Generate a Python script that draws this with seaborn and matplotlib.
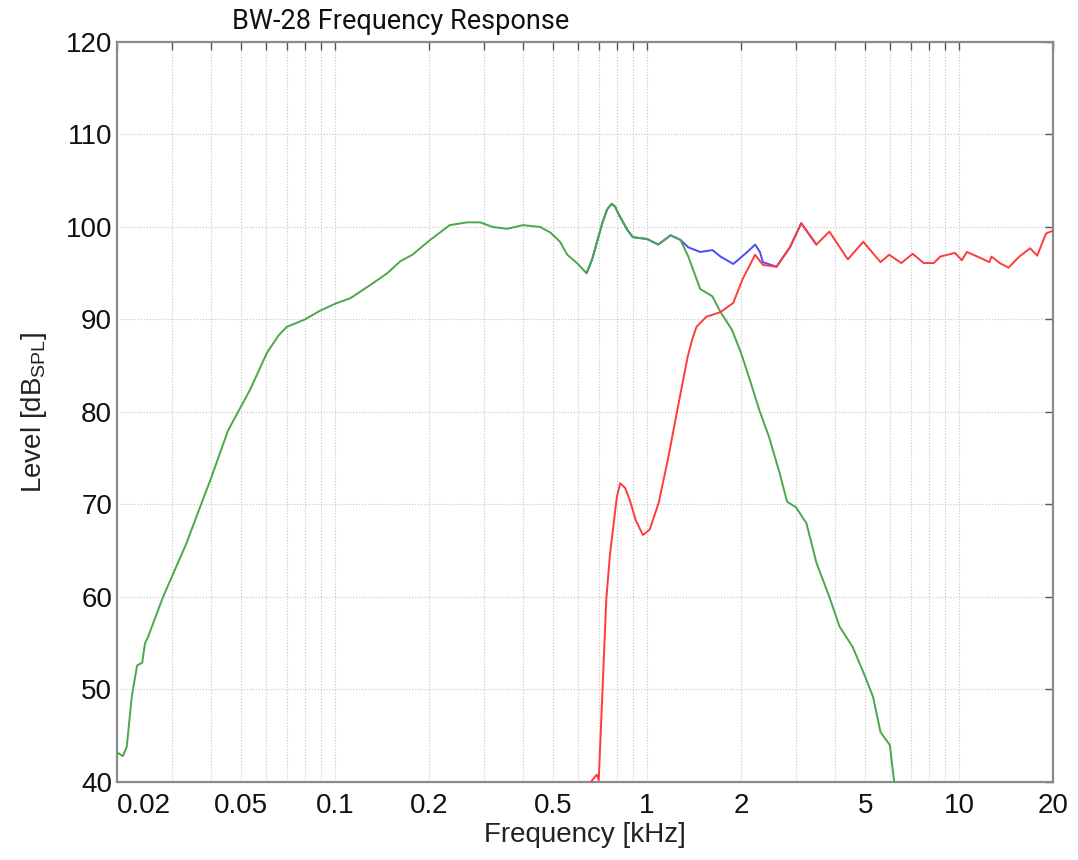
import numpy as np
import pandas as pd
import matplotlib
matplotlib.use("Agg")
import matplotlib.pyplot as plt
import seaborn as sns
from matplotlib.ticker import FixedLocator, LogLocator, NullFormatter

# woofer (green), frequencies in kHz, level in dB SPL
green_f = [0.02, 0.0209, 0.0215, 0.0223, 0.0232, 0.0241, 0.0246, 0.0251, 0.0281, 0.030,
           0.0334, 0.0369, 0.0398, 0.0454, 0.0534, 0.0605, 0.066, 0.070, 0.080, 0.089, 0.100,
           0.112, 0.132, 0.147, 0.162, 0.177, 0.200, 0.233, 0.265, 0.292, 0.320,
           0.356, 0.400, 0.454, 0.490, 0.526, 0.555, 0.596, 0.640, 0.667, 0.690,
           0.720, 0.745, 0.770, 0.790, 0.810, 0.864, 0.900, 1.000, 1.086, 1.190, 1.280, 1.356,
           1.480, 1.620, 1.720, 1.870, 2.000, 2.120, 2.290, 2.460, 2.660, 2.810,
           3.000, 3.240, 3.490, 3.840, 4.140, 4.560, 5.000, 5.300, 5.600, 6.000, 6.200]
green_db = [43.2, 42.8, 43.8, 49.2, 52.6, 52.9, 55.0, 55.6, 60.0, 62.2,
            65.8, 69.7, 72.6, 78.0, 82.4, 86.4, 88.3, 89.2, 90.0, 90.9, 91.7,
            92.3, 93.9, 95.0, 96.3, 97.0, 98.5, 100.2, 100.5, 100.5, 100.0,
            99.8, 100.2, 100.0, 99.4, 98.4, 97.0, 96.1, 95.0, 96.5, 98.3,
            100.5, 101.9, 102.5, 102.2, 101.4, 99.7, 98.9, 98.7, 98.1, 99.1, 98.6, 96.8,
            93.3, 92.5, 90.8, 88.9, 86.4, 83.8, 80.2, 77.3, 73.4, 70.3,
            69.7, 68.0, 63.7, 60.0, 56.8, 54.6, 51.4, 49.2, 45.4, 44.0, 39.9]

# tweeter (red)
red_f = [0.660, 0.690, 0.700, 0.720, 0.740, 0.760, 0.775, 0.800, 0.820, 0.850, 0.880,
         0.920, 0.970, 1.020, 1.090, 1.170, 1.250, 1.350, 1.400, 1.440, 1.550, 1.720,
         1.890, 2.020, 2.220, 2.350, 2.600, 2.870, 3.120, 3.490, 3.840, 4.400, 4.930,
         5.600, 5.970, 6.530, 7.100, 7.700, 8.300, 8.700, 9.700, 10.20, 10.60, 11.80,
         12.50, 12.70, 13.50, 14.40, 15.60, 16.90, 17.80, 19.00, 20.00]
red_db = [40.0, 40.8, 40.2, 50.0, 59.7, 64.5, 66.9, 70.8, 72.3, 71.8, 70.5,
          68.3, 66.7, 67.3, 70.2, 75.1, 80.2, 86.0, 88.0, 89.2, 90.3, 90.8,
          91.8, 94.3, 97.0, 95.9, 95.7, 97.8, 100.4, 98.1, 99.5, 96.5, 98.4,
          96.2, 97.0, 96.1, 97.1, 96.1, 96.1, 96.8, 97.2, 96.4, 97.3, 96.6,
          96.2, 96.8, 96.1, 95.6, 96.8, 97.7, 96.9, 99.3, 99.6]

# sum (blue), visible around the crossover
blue_f = [0.640, 0.667, 0.690, 0.720, 0.745, 0.770, 0.790, 0.810, 0.864, 0.900,
          1.000, 1.086, 1.190, 1.280, 1.356, 1.480, 1.620, 1.720, 1.890, 2.080,
          2.220, 2.300, 2.350, 2.600, 2.870, 3.120, 3.490]
blue_db = [95.0, 96.5, 98.3, 100.5, 101.9, 102.5, 102.2, 101.4, 99.7, 98.9,
           98.7, 98.1, 99.1, 98.6, 97.8, 97.3, 97.5, 96.8, 96.0, 97.2,
           98.1, 97.3, 96.2, 95.7, 97.8, 100.4, 98.1]

xtick_vals = [0.02, 0.05, 0.1, 0.2, 0.5, 1, 2, 5, 10, 20]
xtick_labels = ['0.02', '0.05', '0.1', '0.2', '0.5', '1', '2', '5', '10', '20']
ytick_vals = [40, 50, 60, 70, 80, 90, 100, 110, 120]

sns.set_style('white')
plt.rcParams['font.family'] = ['Liberation Sans', 'DejaVu Sans']
plt.rcParams['mathtext.default'] = 'regular'

fig = plt.figure(figsize=(10.78, 8.6), dpi=100)
ax = fig.add_axes([0.1085, 0.0907, 0.8683, 0.8605])

sns.lineplot(x=blue_f, y=blue_db, color='#4a4aff', linewidth=1.4, ax=ax, zorder=2)
sns.lineplot(x=green_f, y=green_db, color='#4aa84a', linewidth=1.4, ax=ax, zorder=3)
sns.lineplot(x=red_f, y=red_db, color='#ff3b3b', linewidth=1.4, ax=ax, zorder=4)

ax.set_xscale('log')
ax.set_xlim(0.02, 20)
ax.set_ylim(40, 120)
ax.xaxis.set_major_locator(FixedLocator(xtick_vals))
ax.set_xticklabels(xtick_labels)
ax.xaxis.set_minor_locator(LogLocator(base=10, subs=np.arange(2, 10)))
ax.xaxis.set_minor_formatter(NullFormatter())
ax.set_yticks(ytick_vals)

ax.tick_params(axis='both', which='both', direction='in', top=True, right=True,
               length=6, width=1, color='#555555', labelsize=20, labelcolor='#111111')
ax.tick_params(axis='x', pad=8)
ax.get_xticklabels()[0].set_horizontalalignment('left')

ax.grid(True, which='both', axis='x', linestyle=':', color='#c4c4c4', linewidth=0.8)
ax.grid(True, which='major', axis='y', linestyle=':', color='#c4c4c4', linewidth=0.8)
for s in ax.spines.values():
    s.set_color('#8a8a8a')
    s.set_linewidth(1.6)

ax.set_xlabel('Frequency [kHz]', fontsize=20, color='#222222', labelpad=2)
ax.set_ylabel('Level [dB$_{SPL}$]', fontsize=20, color='#222222', labelpad=12)

fig.text(0.2155, 0.975, 'BW-28 Frequency Response', family=['Roboto', 'DejaVu Sans'],
         fontsize=19.5, ha='left', va='center', color='#111111')

fig.savefig('out.png', dpi=100)
